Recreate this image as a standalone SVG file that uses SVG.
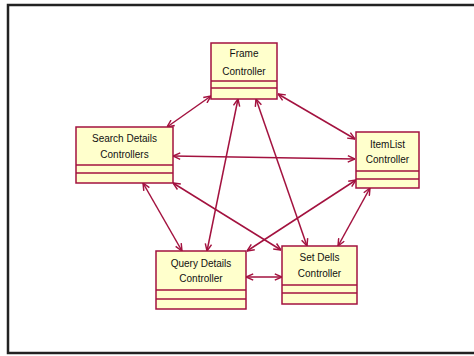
<svg xmlns="http://www.w3.org/2000/svg" width="474" height="356" viewBox="0 0 474 356">
<style>
.box{fill:#ffffcc;stroke:#a3123f;stroke-width:1.5}
.sep{stroke:#a3123f;stroke-width:1.5}
.t{font-family:"Liberation Sans",Arial,sans-serif;font-size:10px;fill:#111;text-anchor:middle}
.c{stroke:#a3123f;stroke-width:1.5;fill:none;marker-start:url(#ar);marker-end:url(#ar)}
</style>
<defs>
<marker id="ar" viewBox="0 0 10 10" refX="10" refY="5" markerWidth="8" markerHeight="8" markerUnits="userSpaceOnUse" orient="auto-start-reverse">
<path d="M1,1 L10,5 L1,9" fill="none" stroke="#a3123f" stroke-width="1.8"/>
</marker>
</defs>
<rect x="0" y="0" width="474" height="356" fill="#fff"/>
<rect x="8" y="5" width="480" height="348" fill="#fff" stroke="#222" stroke-width="2.5"/>
<g id="connectors">
<line class="c" x1="211" y1="96" x2="167" y2="127"/>
<line class="c" x1="238" y1="99" x2="207" y2="251"/>
<line class="c" x1="256" y1="99" x2="307" y2="246"/>
<line class="c" x1="278" y1="94" x2="355" y2="139"/>
<line class="c" x1="173" y1="156" x2="355" y2="159"/>
<line class="c" x1="143" y1="183" x2="182" y2="251"/>
<line class="c" x1="173" y1="183" x2="281" y2="250"/>
<line class="c" x1="356" y1="180" x2="247" y2="251"/>
<line class="c" x1="370" y1="188" x2="338" y2="246"/>
<line class="c" x1="246" y1="277" x2="282" y2="277"/>
</g>
<g id="frame">
<rect class="box" x="211" y="43" width="66" height="56"/>
<line class="sep" x1="211" y1="81" x2="277" y2="81"/>
<line class="sep" x1="211" y1="88" x2="277" y2="88"/>
<text class="t" x="244" y="57">Frame</text>
<text class="t" x="244" y="75">Controller</text>
</g>
<g id="search">
<rect class="box" x="76" y="127" width="97" height="56"/>
<line class="sep" x1="76" y1="165" x2="173" y2="165"/>
<line class="sep" x1="76" y1="173" x2="173" y2="173"/>
<text class="t" x="124.5" y="142">Search Details</text>
<text class="t" x="124.5" y="158">Controllers</text>
</g>
<g id="itemlist">
<rect class="box" x="356" y="132" width="63" height="56"/>
<line class="sep" x1="356" y1="171" x2="419" y2="171"/>
<line class="sep" x1="356" y1="179" x2="419" y2="179"/>
<text class="t" x="387.5" y="148">ItemList</text>
<text class="t" x="387.5" y="163">Controller</text>
</g>
<g id="query">
<rect class="box" x="156" y="251" width="90" height="58"/>
<line class="sep" x1="156" y1="290" x2="246" y2="290"/>
<line class="sep" x1="156" y1="299" x2="246" y2="299"/>
<text class="t" x="201" y="267">Query Details</text>
<text class="t" x="201" y="282">Controller</text>
</g>
<g id="setdells">
<rect class="box" x="282" y="246" width="75" height="58"/>
<line class="sep" x1="282" y1="285" x2="357" y2="285"/>
<line class="sep" x1="282" y1="293" x2="357" y2="293"/>
<text class="t" x="319.5" y="261">Set Dells</text>
<text class="t" x="319.5" y="277">Controller</text>
</g>
</svg>
